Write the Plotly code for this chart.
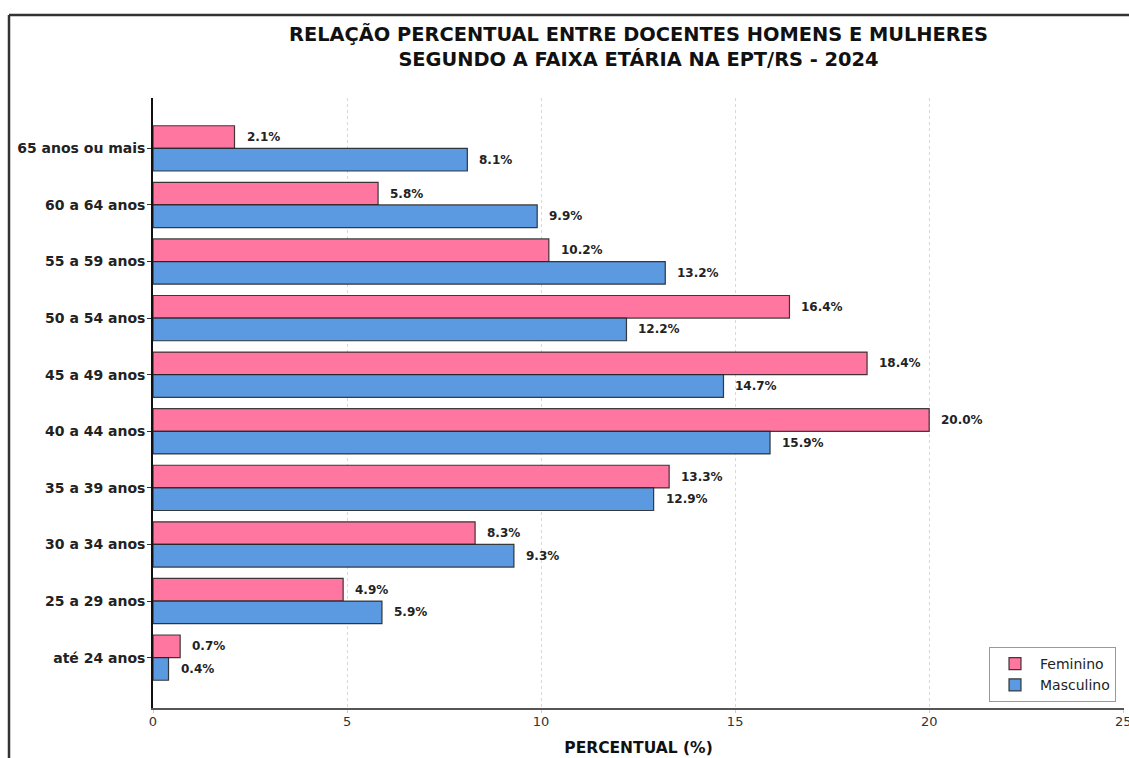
import plotly.graph_objects as go

categorias = ["até 24 anos", "25 a 29 anos", "30 a 34 anos", "35 a 39 anos", "40 a 44 anos",
              "45 a 49 anos", "50 a 54 anos", "55 a 59 anos", "60 a 64 anos", "65 anos ou mais"]
feminino = [0.7, 4.9, 8.3, 13.3, 20.0, 18.4, 16.4, 10.2, 5.8, 2.1]
masculino = [0.4, 5.9, 9.3, 12.9, 15.9, 14.7, 12.2, 13.2, 9.9, 8.1]
x_ticks = [0, 5, 10, 15, 20, 25]

PINK = "#ff77a0"
BLUE = "#5b9ae0"
EDGE = "rgba(30,30,30,0.85)"

fig = go.Figure()
fig.add_trace(go.Bar(y=categorias, x=feminino, orientation="h", name="Feminino",
                     width=0.4, offset=0, marker=dict(color=PINK, line=dict(color=EDGE, width=1.2))))
fig.add_trace(go.Bar(y=categorias, x=masculino, orientation="h", name="Masculino",
                     width=0.4, offset=-0.4, marker=dict(color=BLUE, line=dict(color=EDGE, width=1.2))))

annotations = []
for c, v in zip(categorias, feminino):
    annotations.append(dict(x=v, y=c, xref="x", yref="y", text=f"<b>{v:.1f}%</b>", showarrow=False,
                            xanchor="left", yanchor="middle", xshift=10, yshift=11.3,
                            font=dict(family="DejaVu Sans", size=12, color="#222")))
for c, v in zip(categorias, masculino):
    annotations.append(dict(x=v, y=c, xref="x", yref="y", text=f"<b>{v:.1f}%</b>", showarrow=False,
                            xanchor="left", yanchor="middle", xshift=10, yshift=-11.3,
                            font=dict(family="DejaVu Sans", size=12, color="#222")))

W, H = 1129, 758
L, R, T, B = 153, 5, 98, 50
pw, ph = W - L - R, H - T - B
fx = lambda px: (px - L) / pw
fy = lambda py: (H - B - py) / ph

shapes = [
    dict(type="line", xref="paper", yref="paper", x0=fx(9), x1=fx(9), y0=fy(762), y1=fy(15),
         line=dict(color="#333", width=2.5)),
    dict(type="line", xref="paper", yref="paper", x0=fx(9), x1=fx(1135), y0=fy(15), y1=fy(15),
         line=dict(color="#333", width=2.5)),
]

fig.update_layout(
    width=W, height=H,
    margin=dict(l=L, r=R, t=T, b=B, autoexpand=False),
    paper_bgcolor="white", plot_bgcolor="white",
    barmode="overlay",
    title=dict(text="<b>RELAÇÃO PERCENTUAL ENTRE DOCENTES HOMENS E MULHERES<br>SEGUNDO A FAIXA ETÁRIA NA EPT/RS - 2024</b>",
               x=0.5, xref="paper", y=1 - 41 / H, yref="container", yanchor="top", xanchor="center",
               font=dict(family="DejaVu Sans", size=19.4, color="#111")),
    font=dict(family="DejaVu Sans", color="#222"),
    legend=dict(x=fx(1116), y=fy(702), xanchor="right", yanchor="bottom",
                bordercolor="#999", borderwidth=1, bgcolor="white", traceorder="normal",
                tracegroupgap=0, itemwidth=40,
                font=dict(family="DejaVu Sans", size=14, color="#222")),
    annotations=annotations,
    shapes=shapes,
)
fig.update_xaxes(range=[0, 25.02], tickvals=x_ticks, ticktext=[str(t) for t in x_ticks],
                 showgrid=True, gridcolor="#d8d8d8", griddash="dot", gridwidth=1,
                 showline=True, linecolor="#555", linewidth=1.5,
                 ticks="outside", ticklen=3, tickcolor="#ccc",
                 ticklabelstandoff=-2, ticklabeloverflow="allow", automargin=False,
                 tickfont=dict(family="DejaVu Sans", size=13, color="#333"),
                 title=dict(text="<b>PERCENTUAL (%)</b>", font=dict(family="DejaVu Sans", size=15.5, color="#111"),
                            standoff=14),
                 zeroline=False)
fig.update_yaxes(type="category", categoryorder="array", categoryarray=categorias,
                 range=[-0.89, 9.89], showgrid=False, showline=True, linecolor="#111", linewidth=1.5,
                 ticks="outside", ticklen=4, tickcolor="#333", automargin=False,
                 tickfont=dict(family="DejaVu Sans", size=14, color="#222"),
                 ticklabelstandoff=-1,
                 tickvals=categorias, ticktext=["<b>" + c + "</b>" for c in categorias])

fig.write_html("out.html", config={"displayModeBar": False},
               post_script="document.body.style.margin='0';document.body.style.overflow='hidden';"
                           "document.documentElement.style.overflow='hidden';")
